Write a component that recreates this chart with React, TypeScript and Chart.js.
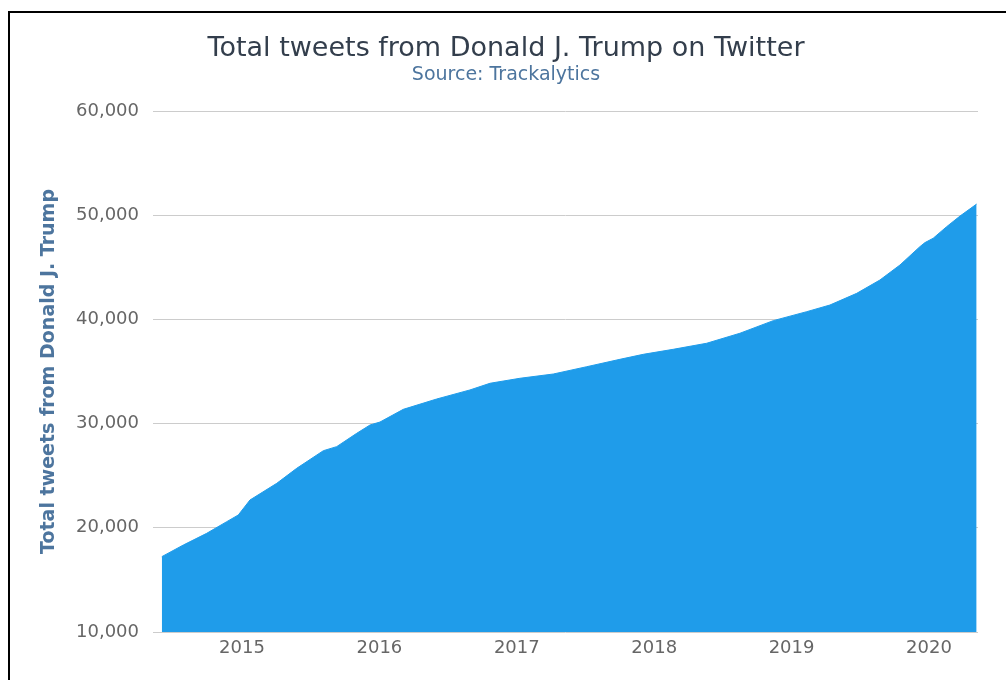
import React, { useEffect, useRef } from "react";
import { Chart, registerables } from "chart.js";

Chart.register(...registerables);

const TITLE = "Total tweets from Donald J. Trump on Twitter";
const SUBTITLE = "Source: Trackalytics";
const Y_TITLE = "Total tweets from Donald J. Trump";

// Decimal years (x) and cumulative tweet totals (y)
const dates = [
  2014.416, 2014.573, 2014.743, 2014.889, 2014.973, 2015.058, 2015.253, 2015.398,
  2015.592, 2015.689, 2015.835, 2015.932, 2016.004, 2016.174, 2016.417, 2016.659,
  2016.805, 2017.023, 2017.266, 2017.509, 2017.751, 2017.921, 2018.139, 2018.382,
  2018.624, 2018.867, 2019.11, 2019.279, 2019.474, 2019.643, 2019.789, 2019.934,
  2019.971, 2020.031, 2020.129, 2020.226, 2020.347,
];
const totals = [
  17230, 18350, 19470, 20590, 21230, 22670, 24270, 25710,
  27400, 27790, 29070, 29870, 30150, 31370, 32360, 33230,
  33870, 34350, 34760, 35460, 36170, 36650, 37130, 37710,
  38670, 39880, 40740, 41380, 42500, 43780, 45220, 46980,
  47370, 47790, 48900, 49920, 51070,
];
const xTicks = [2015, 2016, 2017, 2018, 2019, 2020];
const yTicks = [10000, 20000, 30000, 40000, 50000, 60000];
const X_MIN = 2014.352;
const X_MAX = 2020.357;

const FONT = '"DejaVu Sans", sans-serif';

const titlePlugin = {
  id: "hcTitle",
  afterDraw(chart: any) {
    const ctx = chart.ctx;
    ctx.save();
    ctx.textAlign = "center";
    ctx.textBaseline = "alphabetic";
    ctx.fillStyle = "#333e4c";
    ctx.font = `27px ${FONT}`;
    ctx.fillText(TITLE, 506, 56);
    ctx.fillStyle = "#4d759e";
    ctx.font = `19px ${FONT}`;
    ctx.fillText(SUBTITLE, 506, 80);
    ctx.restore();
  },
};

export default function App() {
  const ref = useRef<HTMLCanvasElement>(null);

  useEffect(() => {
    if (!ref.current) return;
    Chart.defaults.font.family = FONT;
    const chart = new Chart(ref.current, {
      type: "line",
      data: {
        datasets: [
          {
            data: dates.map((x, i) => ({ x, y: totals[i] })),
            backgroundColor: "#1f9cea",
            borderColor: "#1f9cea",
            borderWidth: 1,
            fill: "start",
            pointRadius: 0,
            tension: 0,
          },
        ],
      },
      options: {
        animation: false,
        responsive: false,
        devicePixelRatio: 1,
        layout: { padding: { left: 0, right: 28, top: 111, bottom: 0 } },
        plugins: {
          legend: { display: false },
          tooltip: { enabled: false },
          title: { display: false },
        },
        scales: {
          x: {
            type: "linear",
            min: X_MIN,
            max: X_MAX,
            afterBuildTicks: (s: any) => {
              s.ticks = xTicks.map((v) => ({ value: v }));
            },
            afterFit: (s: any) => {
              s.height = 48;
            },
            ticks: {
              color: "#666666",
              font: { size: 18 },
              padding: 6,
              maxRotation: 0,
              autoSkip: false,
              callback: (v: any) => String(v),
            },
            grid: { display: false, drawTicks: false },
            border: { display: false },
          },
          y: {
            min: 10000,
            max: 60000,
            afterBuildTicks: (s: any) => {
              s.ticks = yTicks.map((v) => ({ value: v }));
            },
            afterFit: (s: any) => {
              s.width = 153;
            },
            ticks: {
              color: "#666666",
              font: { size: 18 },
              padding: 14,
              callback: (v: any) => Number(v).toLocaleString("en-US"),
            },
            grid: { color: "#cccccc", drawTicks: false, lineWidth: 1 },
            border: { display: false },
            title: {
              display: true,
              text: Y_TITLE,
              color: "#4d759e",
              font: { size: 19, weight: "bold" },
              padding: { top: 38, bottom: 0 },
            },
          },
        },
      },
      plugins: [titlePlugin],
    } as any);
    return () => chart.destroy();
  }, []);

  return (
    <div
      style={{
        position: "fixed",
        left: 0,
        top: 0,
        width: 1006,
        height: 680,
        overflow: "hidden",
        background: "#ffffff",
      }}
    >
      <canvas
        ref={ref}
        width={1006}
        height={680}
        style={{ position: "absolute", left: 0, top: 0, width: 1006, height: 680 }}
      />
      <div
        style={{
          position: "absolute",
          left: 8,
          top: 11,
          width: 2000,
          height: 2000,
          borderLeft: "2px solid #000",
          borderTop: "2px solid #000",
          pointerEvents: "none",
        }}
      />
    </div>
  );
}
